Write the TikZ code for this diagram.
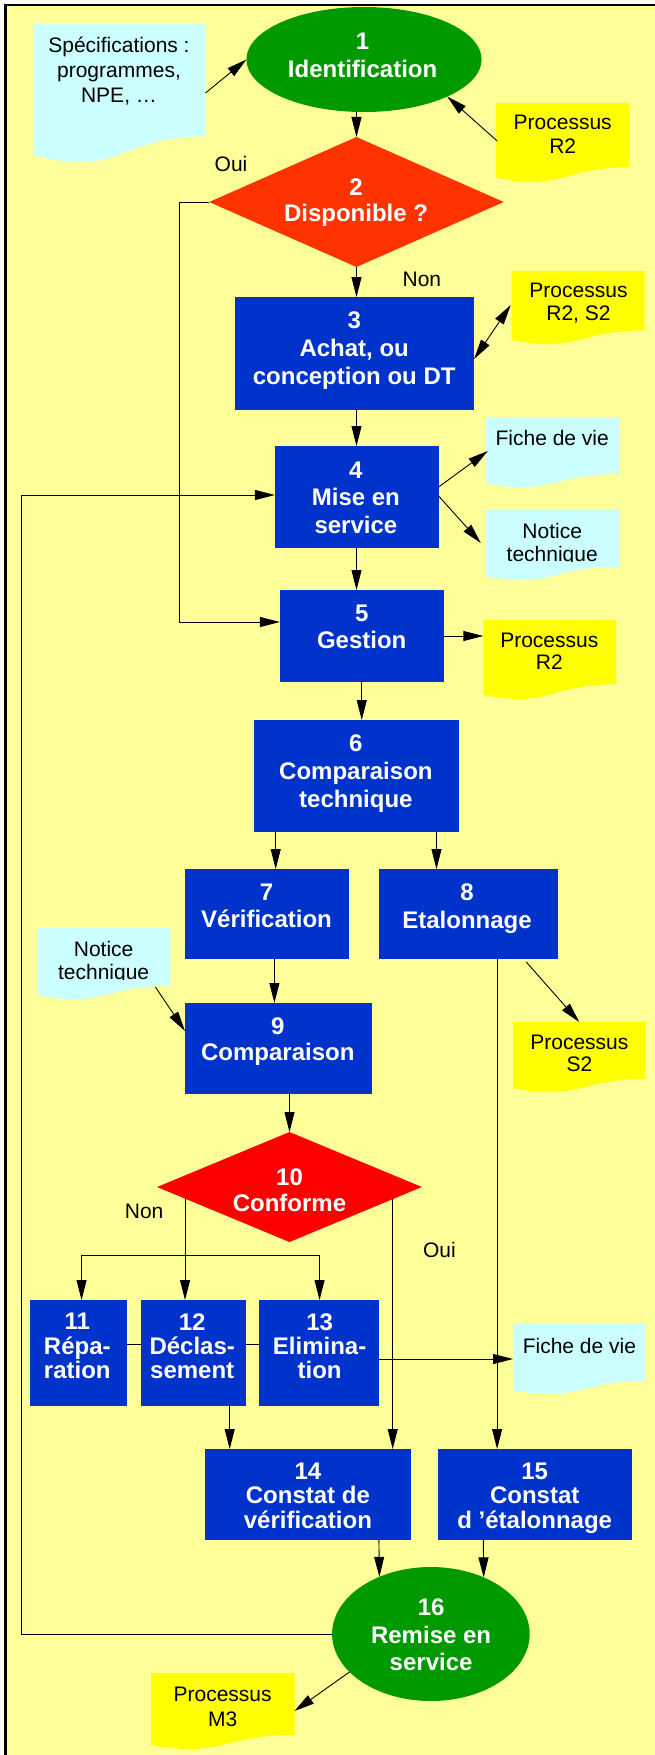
\documentclass[tikz,border=0pt]{standalone}
\usepackage{fontspec}
\setmainfont{Liberation Sans}
\usetikzlibrary{shapes.geometric,arrows.meta,calc}

\definecolor{bgyel}{HTML}{FFFF99}
\definecolor{boxblue}{HTML}{0033CC}
\definecolor{okgreen}{HTML}{009900}
\definecolor{askorange}{HTML}{FF3300}
\definecolor{askred}{HTML}{FF0000}
\definecolor{doccyan}{HTML}{CCFFFF}
\definecolor{docyellow}{HTML}{FFFF00}

% document symbol: a rectangle whose lower edge is a wave
\newcommand\docshape[6]{%
  \node[docbox, minimum width=#4, minimum height=#5] (#1) at (#2,#3) {};
  \fill[#6] (#1.north west) -- (#1.north east)
    -- ($(#1.north east)!0.802!(#1.south east)$)
    .. controls ($(#1.north)!0.802!(#1.south)$) and ($(#1.north)!1.1075!(#1.south)$)
    .. ($(#1.north west)!0.934!(#1.south west)$) -- cycle;
}

\begin{document}
\begin{tikzpicture}[x=1pt,y=-1pt,
  every node/.style={inner sep=0pt, outer sep=0pt},
  stepbox/.style={fill=boxblue, anchor=north west},
  oval/.style={ellipse, fill=okgreen},
  ask/.style={diamond, fill=#1},
  docbox/.style={anchor=north west},
  btxt/.style={text=white, anchor=north, align=center,
    font=\bfseries\fontsize{24}{#1}\selectfont},
  btxt/.default=27.5,
  dtxt/.style={text=black, anchor=north, align=center,
    font=\fontsize{21}{#1}\selectfont},
  dtxt/.default=23,
  wire/.style={draw=black, line width=0.9pt},
  arr/.style={wire, -{Triangle[length=20pt,width=10pt]}},
  darr/.style={wire, {Triangle[length=20pt,width=10pt]}-{Triangle[length=20pt,width=10pt]}},
]
\useasboundingbox (0,0) rectangle (655,1755);
\fill[bgyel] (5.5,5) rectangle (655,1755);
\draw[line width=2.2pt] (5.5,1755) -- (5.5,5) -- (655,5);

% documents
\docshape{spec}{33.4}{24}{172.1}{140}{doccyan}
\docshape{pr1}{496.2}{103}{133.3}{80}{docyellow}
\docshape{pr3}{511.7}{271}{132.8}{74}{docyellow}
\docshape{fv1}{485.8}{417}{133.2}{71}{doccyan}
\docshape{nt1}{485.8}{509}{133.2}{72}{doccyan}
\docshape{pr5}{483.3}{620}{132.8}{80}{docyellow}
\docshape{nt2}{37.6}{928}{132.8}{72}{doccyan}
\docshape{prs}{513}{1022}{132.4}{71}{docyellow}
\docshape{fv2}{513}{1324}{132.4}{71}{doccyan}
\docshape{prm}{151.2}{1673}{143.3}{77}{docyellow}

% process steps
\node[oval, minimum width=235.2, minimum height=105] (e1) at (364,59.5) {};
\node[ask=askorange, minimum width=294.5, minimum height=130] (d2) at (356.5,202) {};
\node[stepbox, minimum width=238.9, minimum height=113] (b3) at (235.2,297) {};
\node[stepbox, minimum width=163.7, minimum height=102] (b4) at (274.9,446) {};
\node[stepbox, minimum width=163.7, minimum height=92] (b5) at (279.9,590) {};
\node[stepbox, minimum width=205.1, minimum height=112] (b6) at (253.6,720) {};
\node[stepbox, minimum width=163.8, minimum height=90] (b7) at (185,869) {};
\node[stepbox, minimum width=178.7, minimum height=90] (b8) at (378.9,869) {};
\node[stepbox, minimum width=186.8, minimum height=91] (b9) at (185,1003) {};
\node[ask=askred, minimum width=264.8, minimum height=110] (d10) at (289.5,1187) {};
\node[stepbox, minimum width=96.5, minimum height=106] (b11) at (30.1,1300) {};
\node[stepbox, minimum width=104.4, minimum height=106] (b12) at (141.2,1300) {};
\node[stepbox, minimum width=119.9, minimum height=106] (b13) at (259,1300) {};
\node[stepbox, minimum width=205.5, minimum height=91] (b14) at (205.1,1449) {};
\node[stepbox, minimum width=193.4, minimum height=91] (b15) at (438.2,1449) {};
\node[oval, minimum width=197.6, minimum height=134] (e16) at (430.9,1634) {};

% connectors
\draw[arr] ($(spec.north east)+(0,69)$) -- (e1.west);
\draw[arr] ($(pr1.north west)+(1,38)$) -- (e1.-24.6);
\draw[arr] (e1.south -| d2.north) -- (d2.north);
\draw[arr] (d2.south) -- (d2.south |- b3.north);
\draw[darr] ($(b3.north east)+(0,62)$) -- ($(pr3.north west)+(-1,34)$);
\draw[arr] (b3.south -| d2.south) -- (b4.north -| d2.south);
\draw[arr] ($(b4.east)+(0,-10)$) -- ($(fv1.north west)+(2,34)$);
\draw[arr] ($(b4.east)+(0,-1)$) -- ($(nt1.north west)+(-5,34)$);
\draw[arr] (b4.south -| d2.south) -- (b5.north -| d2.south);
\coordinate (ouiC) at (179.6,622);
\draw[arr] (d2.west) -| (ouiC) -- (ouiC -| b5.west);
\coordinate (loopC) at (21.7,1634);
\draw[arr] (e16.west) -- (loopC) |- ($(b4.west)+(0,-2)$);
\draw[arr] (b5.east) -- (b5.east -| pr5.west);
\draw[arr] (b5.south) -- (b5.south |- b6.north);
\coordinate (p67) at ($(b6.south west)+(22.1,0)$);
\draw[arr] (p67) -- (p67 |- b7.north);
\coordinate (p68) at ($(b6.south east)+(-22.2,0)$);
\draw[arr] (p68) -- (p68 |- b8.north);
\coordinate (p79) at ($(b7.south)+(7.5,0)$);
\draw[arr] (p79) -- (p79 |- b9.north);
\draw[arr] ($(nt2.north west)+(117.8,59)$) -- ($(b9.north west)+(0,28)$);
\coordinate (p815) at ($(b8.south east)+(-60.5,0)$);
\draw[arr] (p815) -- (p815 |- b15.north);
\draw[arr] ($(b8.south east)+(-31.3,3)$) -- (prs.north);
\draw[arr] (b9.south -| d10.north) -- (d10.north);
\coordinate (nL) at ($(d10.west)!0.211!(d10.south)$);
\draw[arr] (nL) -- (nL |- b12.north);
\coordinate (barL) at ($(b11.north)+(3.2,-45)$);
\coordinate (barR) at ($(b13.north)+(0.6,-45)$);
\draw[arr] (barR) -- (barL) -- (barL |- b11.north);
\draw[arr] (barR) -- (barR |- b13.north);
\coordinate (nR) at ($(d10.east)!0.2205!(d10.south)$);
\draw[arr] (nR) -- (nR |- b14.north);
\draw[wire] ($(b11.east)+(0,-9)$) -- ($(b12.west)+(0,-9)$);
\draw[wire] ($(b12.east)+(0,-9)$) -- ($(b13.west)+(0,-9)$);
\coordinate (p13) at ($(b13.east)+(0,6)$);
\draw[arr] (p13) -- (p13 -| fv2.west);
\coordinate (p1214) at ($(b12.south east)+(-15.9,0)$);
\draw[arr] (p1214) -- (p1214 |- b14.north);
\draw[arr] ($(b14.south east)+(-31.7,0)$) -- (e16.132.4);
\draw[arr] ($(b15.south west)+(45.1,0)$) -- (e16.47.3);
\draw[arr] (e16.205.6) -- ($(prm.north east)+(0,38)$);

% step texts
\node[btxt=27.3] (t1) at (362.6,33.3) {1\\Identification};
\node[btxt=26] (t2) at (356,179) {2\\Disponible ?};
\node[btxt=28] (t3) at (354.2,311.7) {3\\Achat, ou\\conception ou DT};
\node[btxt] (t4) at (355.9,461.7) {4\\Mise en\\service};
\node[btxt=27.3] (t5) at (361.7,605) {5\\Gestion};
\node[btxt=28] (t6) at (355.9,735) {6\\Comparaison\\technique};
\node[btxt=27.3] (t7) at (266.5,884) {7\\Vérification};
\node[btxt=27.3] (t8) at (467,884) {8\\Etalonnage};
\node[btxt=26.7] (t9) at (277.8,1017.3) {9\\Comparaison};
\node[btxt=26] (t10) at (289.5,1168.3) {10\\Conforme};
\node[btxt=24.2] (t11) at (77.3,1313.3) {11\\Répa-\\ration};
\node[btxt=24.2] (t12) at (192.2,1313.3) {12\\Déclas-\\sement};
\node[btxt=24.2] (t13) at (319.6,1313.3) {13\\Elimina-\\tion};
\node[btxt=24.5] (t14) at (307.9,1462.7) {14\\Constat de\\vérification};
\node[btxt=24.5] (t15) at (534.7,1462.7) {15\\Constat\\d ’étalonnage};
\node[btxt] (t16) at (431.1,1599) {16\\Remise en\\service};

% document texts
\node[dtxt=24.7] (s1) at (119,37.5) {Spécifications :\\programmes,\\NPE, …};
\node[dtxt=24.5] (s2) at (562.7,115) {Processus\\R2};
\node[dtxt=22.7] (s3) at (578.5,283.3) {Processus\\R2, S2};
\node[dtxt] (s4) at (552.2,430.7) {Fiche de vie};
\begin{scope}
  \clip (nt1.north west) rectangle ($(nt1.north east)+(0,52.7)$);
  \node[dtxt=23] (s5) at (552.2,523) {Notice\\technique};
\end{scope}
\node[dtxt=22.3] (s6) at (549.3,632.7) {Processus\\R2};
\begin{scope}
  \clip (nt2.north west) rectangle ($(nt2.north east)+(0,51.3)$);
  \node[dtxt=22.7] (s7) at (103.6,941.7) {Notice\\technique};
\end{scope}
\node[dtxt=22.3] (s8) at (579.4,1035) {Processus\\S2};
\node[dtxt] (s9) at (579.4,1338.3) {Fiche de vie};
\node[dtxt=24.3] (s10) at (222.6,1687.3) {Processus\\M3};

% branch labels
\node[dtxt] (l1) at (231,156.7) {Oui};
\node[dtxt] (l2) at (421.9,271.7) {Non};
\node[dtxt] (l3) at (144.1,1204) {Non};
\node[dtxt] (l4) at (439.4,1242.3) {Oui};
\end{tikzpicture}
\end{document}
